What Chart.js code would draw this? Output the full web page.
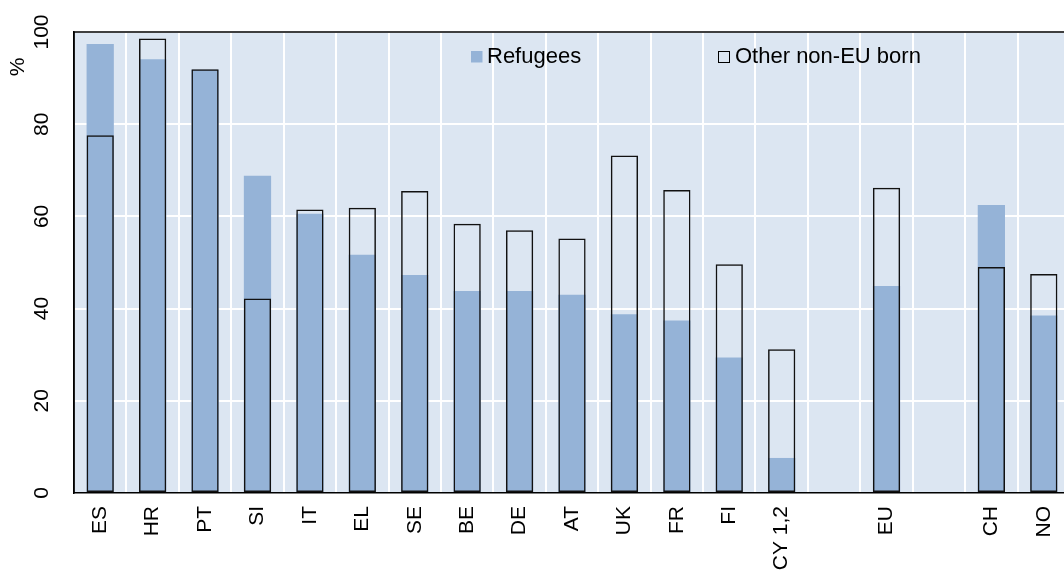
<!DOCTYPE html>
<html>
<head>
<meta charset="utf-8">
<script src="https://cdn.jsdelivr.net/npm/chart.js@4.4.1/dist/chart.umd.min.js"></script>
<style>
  html, body { margin: 0; padding: 0; background: #fff; overflow: hidden; }
  #wrap { width: 1072px; height: 574px; }
</style>
</head>
<body>
<div id="wrap"><canvas id="bars" width="1072" height="574"></canvas></div>
<script>
// landen + waarden (in %)
var countries = ['ES', 'HR', 'PT', 'SI', 'IT', 'EL', 'SE', 'BE', 'DE', 'AT', 'UK', 'FR', 'FI', 'CY 1,2', '', 'EU', '', 'CH', 'NO'];
var refugees = [97.4, 94.1, 91.8, 68.8, 60.6, 51.7, 47.3, 43.8, 43.8, 43.0, 38.8, 37.4, 29.4, 7.6, null, 44.9, null, 62.5, 38.5];
var otherNonEU = [77.6, 98.6, 91.9, 42.2, 61.5, 61.9, 65.5, 58.4, 57.0, 55.2, 73.2, 65.7, 49.6, 31.2, null, 66.2, null, 49.0, 47.5];
var yTicks = [0, 20, 40, 60, 80, 100];

var font = 'Arial, "Liberation Sans", sans-serif';
var blue = '#95b3d7';
var plotBg = '#dce6f2';

// achtergrond, kader, legenda en "%" zelf tekenen
var decor = {
    id: 'decor',
    beforeDraw: function (chart) {
        var a = chart.chartArea, c = chart.ctx;
        c.save();
        c.fillStyle = plotBg;
        c.fillRect(a.left, a.top, a.right - a.left, a.bottom - a.top);
        c.restore();
    },
    beforeDatasetsDraw: function (chart) {
        var a = chart.chartArea, c = chart.ctx;
        c.save();
        c.strokeStyle = '#000';
        c.lineWidth = 1.5;
        c.beginPath();
        c.moveTo(a.left, a.bottom);
        c.lineTo(a.left, a.top);
        c.lineTo(a.right, a.top);
        c.stroke();
        c.restore();
    },
    afterDraw: function (chart) {
        var c = chart.ctx, ds = chart.data.datasets;
        c.save();
        c.font = '22px ' + font;
        c.fillStyle = '#000';
        c.textBaseline = 'middle';
        // Refugees
        c.fillStyle = blue;
        c.fillRect(471, 51, 11.5, 11.5);
        c.fillStyle = '#000';
        c.fillText(ds[1].label, 487, 57);
        // Other non-EU born
        c.strokeStyle = '#000';
        c.lineWidth = 1;
        c.strokeRect(718.5, 51.5, 11, 11);
        c.fillText(ds[0].label, 735, 57);
        // as-titel
        c.translate(18, 67);
        c.rotate(-Math.PI / 2);
        c.textAlign = 'center';
        c.font = '21px ' + font;
        c.fillText('%', 0, 0);
        c.restore();
    }
};

var ctx = document.getElementById('bars').getContext('2d');
var myChart = new Chart(ctx, {
    type: 'bar',
    data: {
        labels: countries,
        datasets: [{
            label: 'Other non-EU born',
            data: otherNonEU,
            backgroundColor: 'rgba(0,0,0,0)',
            borderColor: '#111',
            borderWidth: 1.5,
            borderSkipped: false,
            grouped: false,
            order: 1
        }, {
            label: 'Refugees',
            data: refugees,
            backgroundColor: blue,
            borderWidth: 0,
            grouped: false,
            order: 2
        }]
    },
    options: {
        responsive: false,
        animation: false,
        layout: { padding: { top: 32, right: 2 } },
        datasets: { bar: { categoryPercentage: 1, barPercentage: 0.52 } },
        plugins: {
            legend: { display: false },
            tooltip: { enabled: false }
        },
        scales: {
            x: {
                offset: true,
                grid: { offset: true, color: '#fff', lineWidth: 2, drawTicks: false },
                border: { display: true, color: '#000', width: 1.5 },
                ticks: {
                    autoSkip: false, minRotation: 90, maxRotation: 90,
                    padding: 13, color: '#000', font: { family: font, size: 21 }
                },
                afterFit: function (s) { s.height = 81; s.paddingLeft = 0; s.paddingRight = 0; }
            },
            y: {
                min: 0, max: 100,
                afterBuildTicks: function (s) { s.ticks = yTicks.map(function (v) { return { value: v }; }); },
                grid: { color: '#fff', lineWidth: 2, drawTicks: false },
                border: { display: true, color: '#000', width: 1.5 },
                ticks: {
                    minRotation: 90, maxRotation: 90, crossAlign: 'center',
                    padding: 14, color: '#000', font: { family: font, size: 21 }
                },
                afterFit: function (s) { s.width = 74; s.paddingTop = 0; s.paddingBottom = 0; }
            }
        }
    },
    plugins: [decor]
});
</script>
</body>
</html>
